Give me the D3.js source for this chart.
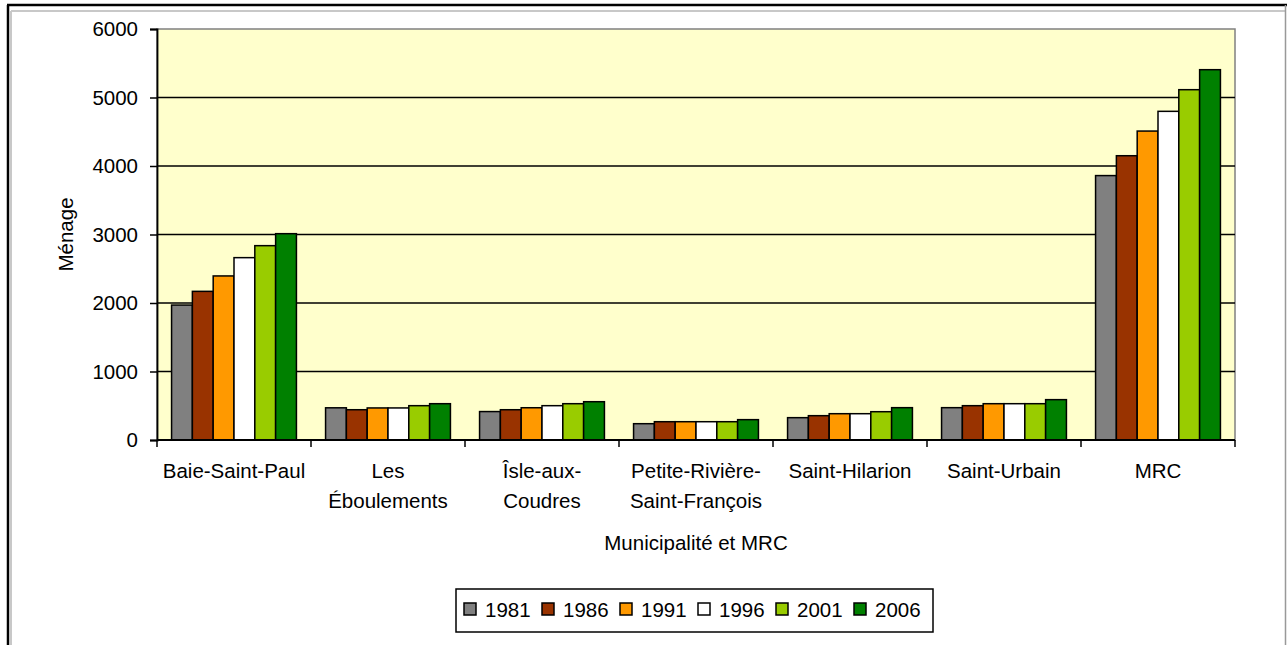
<!DOCTYPE html>
<html>
<head>
<meta charset="utf-8">
<script src="https://cdn.jsdelivr.net/npm/d3@7"></script>
<style>
  body { margin: 0; background: #fff; }
  svg { display: block; font-family: Arial, "Liberation Sans", sans-serif; }
</style>
</head>
<body>
<svg id="chart" width="1287" height="645"></svg>
<script>
// données
var categories = [
    ["Baie-Saint-Paul"],
    ["Les", "Éboulements"],
    ["Îsle-aux-", "Coudres"],
    ["Petite-Rivière-", "Saint-François"],
    ["Saint-Hilarion"],
    ["Saint-Urbain"],
    ["MRC"]
];
var annees = ["1981", "1986", "1991", "1996", "2001", "2006"];
var menages1981 = [1970, 470, 415, 238, 326, 472, 3860];
var menages1986 = [2170, 442, 442, 267, 355, 501, 4150];
var menages1991 = [2395, 468, 471, 267, 384, 530, 4510];
var menages1996 = [2662, 468, 501, 267, 384, 530, 4798];
var menages2001 = [2837, 501, 530, 267, 413, 530, 5114];
var menages2006 = [3012, 530, 559, 297, 472, 589, 5406];
var yTicks = [0, 1000, 2000, 3000, 4000, 5000, 6000];
var couleurs = ["#808080", "#993300", "#FF9900", "#FFFFFF", "#99CC00", "#008000"];

var series = [menages1981, menages1986, menages1991, menages1996, menages2001, menages2006];

var svg = d3.select("#chart");
var taille = 20.5;

// cadre extérieur
svg.append("line").attr("x1", 7).attr("y1", 5).attr("x2", 1287).attr("y2", 5)
    .attr("stroke", "#000").attr("stroke-width", 2.5);
svg.append("line").attr("x1", 8).attr("y1", 5).attr("x2", 8).attr("y2", 645)
    .attr("stroke", "#000").attr("stroke-width", 2.5);
svg.append("line").attr("x1", 11).attr("y1", 11).attr("x2", 1285).attr("y2", 11)
    .attr("stroke", "#c8c8c8").attr("stroke-width", 2);
svg.append("line").attr("x1", 11).attr("y1", 11).attr("x2", 11).attr("y2", 645)
    .attr("stroke", "#c8c8c8").attr("stroke-width", 2);
svg.append("line").attr("x1", 1285.5).attr("y1", 5).attr("x2", 1285.5).attr("y2", 645)
    .attr("stroke", "#999").attr("stroke-width", 1.5);

var pLeft = 157, pTop = 29, pRight = 1235, pBottom = 440;

var x0 = d3.scaleBand().domain(d3.range(categories.length)).range([pLeft, pRight]).padding(0);
var x1 = d3.scaleBand().domain(annees).range([0, x0.bandwidth()])
    .paddingInner(0).paddingOuter(0.7);
var y = d3.scaleLinear().domain([0, 6000]).range([pBottom, pTop]);

// fond de la zone de traçage
svg.append("rect")
    .attr("x", pLeft).attr("y", pTop)
    .attr("width", pRight - pLeft).attr("height", pBottom - pTop)
    .attr("fill", "#FFFFCC")
    .attr("stroke", "#808080").attr("stroke-width", 1.5);

// quadrillage
svg.append("g").selectAll("line")
    .data(yTicks.filter(function(d) { return d > 0 && d < 6000; }))
    .enter().append("line")
    .attr("x1", pLeft).attr("x2", pRight)
    .attr("y1", function(d) { return y(d); })
    .attr("y2", function(d) { return y(d); })
    .attr("stroke", "#000").attr("stroke-width", 1.5);

// barres
annees.forEach(function(an, j) {
    svg.append("g").selectAll("rect")
        .data(series[j])
        .enter().append("rect")
        .attr("x", function(d, i) { return x0(i) + x1(an); })
        .attr("y", function(d) { return y(d); })
        .attr("width", x1.bandwidth())
        .attr("height", function(d) { return pBottom - y(d); })
        .attr("fill", couleurs[j])
        .attr("stroke", "#000").attr("stroke-width", 1.5);
});

// axe Y
var yAxis = svg.append("g")
    .attr("transform", "translate(" + pLeft + ",0)")
    .call(d3.axisLeft(y).tickValues(yTicks).tickSize(7).tickPadding(12).tickFormat(d3.format("d")));
yAxis.select(".domain").attr("stroke", "#000").attr("stroke-width", 1.8);
yAxis.selectAll(".tick line").attr("stroke", "#000").attr("stroke-width", 1.5);
yAxis.selectAll(".tick text").attr("font-size", taille).attr("fill", "#000")
    .attr("font-family", "Arial, 'Liberation Sans', sans-serif");

// axe X
var frontieres = d3.range(categories.length + 1).map(function(i) {
    return i < categories.length ? x0(i) : pRight;
});
svg.append("line").attr("x1", pLeft).attr("x2", pRight)
    .attr("y1", pBottom).attr("y2", pBottom)
    .attr("stroke", "#000").attr("stroke-width", 1.8);
svg.append("g").selectAll("line")
    .data(frontieres)
    .enter().append("line")
    .attr("x1", function(d) { return d; }).attr("x2", function(d) { return d; })
    .attr("y1", pBottom).attr("y2", pBottom + 7)
    .attr("stroke", "#000").attr("stroke-width", 1.5);

var etiquettes = svg.append("g").selectAll("text")
    .data(categories)
    .enter().append("text")
    .attr("x", function(d, i) { return x0(i) + x0.bandwidth() / 2; })
    .attr("y", 478)
    .attr("text-anchor", "middle")
    .attr("font-size", taille)
    .attr("fill", "#000");
etiquettes.selectAll("tspan")
    .data(function(d) { return d; })
    .enter().append("tspan")
    .attr("x", function() { return d3.select(this.parentNode).attr("x"); })
    .attr("dy", function(d, k) { return k === 0 ? 0 : 30; })
    .text(function(d) { return d; });

// titres des axes
svg.append("text")
    .attr("x", (pLeft + pRight) / 2).attr("y", 550)
    .attr("text-anchor", "middle").attr("font-size", taille)
    .text("Municipalité et MRC");
svg.append("text")
    .attr("transform", "translate(73," + (pTop + pBottom) / 2 + ") rotate(-90)")
    .attr("text-anchor", "middle").attr("font-size", taille)
    .text("Ménage");

// légende
var leg = svg.append("g");
leg.append("rect")
    .attr("x", 456).attr("y", 589).attr("width", 477).attr("height", 43)
    .attr("fill", "#fff").attr("stroke", "#000").attr("stroke-width", 1.5);
var items = leg.selectAll("g.item")
    .data(annees)
    .enter().append("g")
    .attr("class", "item")
    .attr("transform", function(d, i) { return "translate(" + (464 + i * 78) + ",0)"; });
items.append("rect")
    .attr("x", 0).attr("y", 603).attr("width", 12).attr("height", 12)
    .attr("fill", function(d, i) { return couleurs[i]; })
    .attr("stroke", "#000").attr("stroke-width", 1.5);
items.append("text")
    .attr("x", 21).attr("y", 617)
    .attr("font-size", taille)
    .text(function(d) { return d; });
</script>
</body>
</html>
